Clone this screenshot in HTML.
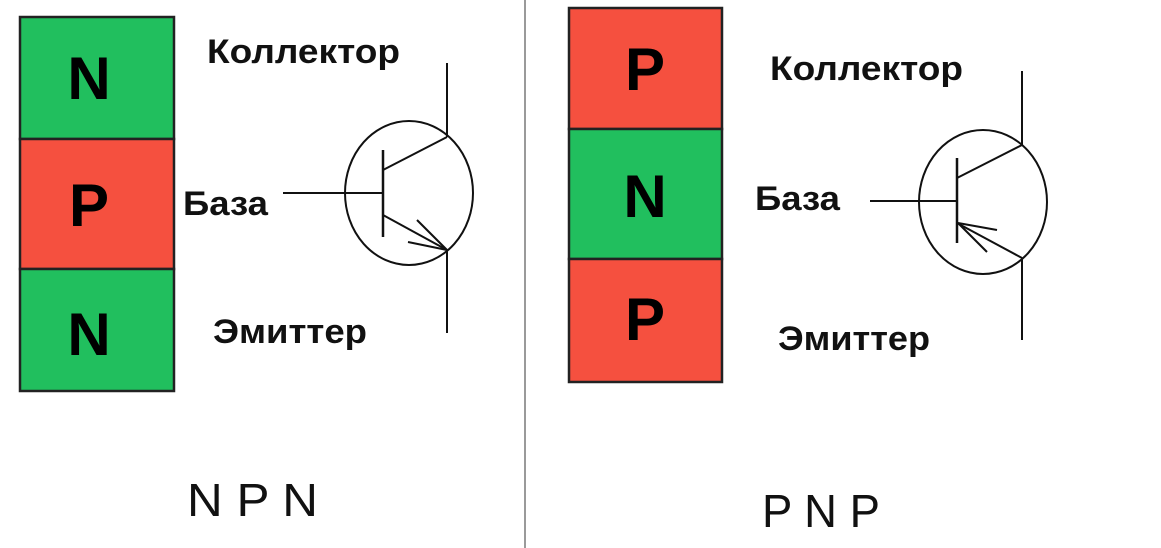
<!DOCTYPE html>
<html><head><meta charset="utf-8"><style>
html,body{margin:0;padding:0;background:#fff;}
svg{display:block;font-family:"Liberation Sans",Arial,sans-serif;}
</style></head><body>
<svg width="1161" height="548" viewBox="0 0 1161 548">
<line x1="525" y1="0" x2="525" y2="548" stroke="#9a9a9a" stroke-width="2"/>
<g stroke="#222" stroke-width="2.5">
<rect x="20" y="17" width="154" height="122" fill="#21bf5e"/>
<rect x="20" y="139" width="154" height="130" fill="#f5503f"/>
<rect x="20" y="269" width="154" height="122" fill="#21bf5e"/>
</g>
<g stroke="#222" stroke-width="2.5">
<rect x="569" y="8" width="153" height="121" fill="#f5503f"/>
<rect x="569" y="129" width="153" height="130" fill="#21bf5e"/>
<rect x="569" y="259" width="153" height="123" fill="#f5503f"/>
</g>
<g font-weight="bold" font-size="60" text-anchor="middle" fill="#000">
<text x="89" y="99">N</text>
<text x="89" y="226">P</text>
<text x="89" y="355">N</text>
<text x="645" y="90">P</text>
<text x="645" y="217">N</text>
<text x="645" y="340">P</text>
</g>
<g font-weight="bold" font-size="34" fill="#111">
<text x="207" y="63" textLength="193" lengthAdjust="spacingAndGlyphs">Коллектор</text>
<text x="183" y="215" textLength="85" lengthAdjust="spacingAndGlyphs">База</text>
<text x="213" y="343" textLength="154" lengthAdjust="spacingAndGlyphs">Эмиттер</text>
<text x="770" y="80" textLength="193" lengthAdjust="spacingAndGlyphs">Коллектор</text>
<text x="755" y="210" textLength="85" lengthAdjust="spacingAndGlyphs">База</text>
<text x="778" y="350" textLength="152" lengthAdjust="spacingAndGlyphs">Эмиттер</text>
</g>
<g font-size="46" fill="#111">
<text x="187" y="516" textLength="131" lengthAdjust="spacingAndGlyphs">N P N</text>
<text x="762" y="527" textLength="118" lengthAdjust="spacingAndGlyphs">P N P</text>
</g>
<g stroke="#111" stroke-width="2" fill="none">
<ellipse cx="409" cy="193" rx="64" ry="72"/>
<line x1="447" y1="63" x2="447" y2="137"/>
<line x1="383" y1="150" x2="383" y2="237" stroke-width="2.5"/>
<line x1="283" y1="193" x2="383" y2="193"/>
<line x1="383" y1="170" x2="447" y2="137"/>
<line x1="383" y1="215" x2="447" y2="250"/>
<line x1="447" y1="250" x2="447" y2="333"/>
<line x1="417" y1="220" x2="447" y2="250"/>
<line x1="408" y1="242" x2="447" y2="250"/>
</g>
<g stroke="#111" stroke-width="2" fill="none">
<ellipse cx="983" cy="202" rx="64" ry="72"/>
<line x1="1022" y1="71" x2="1022" y2="145"/>
<line x1="957" y1="158" x2="957" y2="243" stroke-width="2.5"/>
<line x1="870" y1="201" x2="957" y2="201"/>
<line x1="957" y1="178" x2="1022" y2="145"/>
<line x1="957" y1="223" x2="1022" y2="258"/>
<line x1="1022" y1="258" x2="1022" y2="340"/>
<line x1="958" y1="223" x2="997" y2="230"/>
<line x1="958" y1="223" x2="987" y2="252"/>
</g>
</svg>
</body></html>
